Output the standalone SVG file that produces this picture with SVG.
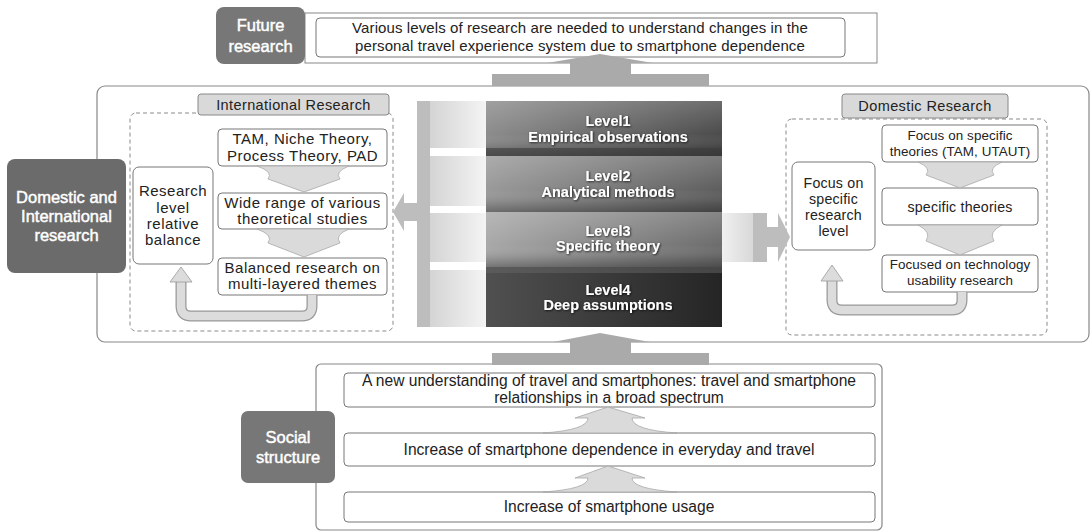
<svg xmlns="http://www.w3.org/2000/svg" width="1092" height="532" viewBox="0 0 1092 532">
<defs>
<style>
text{font-family:"Liberation Sans",Arial,sans-serif;fill:#222;text-anchor:middle}
.t{font-size:15px;letter-spacing:0.5px}
.td{font-size:13.4px;letter-spacing:0.1px}
.td2{font-size:14.2px;letter-spacing:0.2px}
.tl{font-size:14.5px;letter-spacing:0.4px}
.tf{font-size:15px;letter-spacing:0.1px}
.tb{font-size:15.6px}
.dark{fill:#777}
.dk text{fill:#fff;stroke:#fff;stroke-width:0.45;font-size:16.5px}
.box{fill:#fff;stroke:#777;stroke-width:1}
.frame{fill:#fff;stroke:#888;stroke-width:1.2}
.dash{fill:none;stroke:#8a8a8a;stroke-width:1;stroke-dasharray:4 3}
.lbl{fill:#d9d9d9;stroke:#888;stroke-width:1}
.ga{fill:#aaaaaa}
.la{fill:#dadada;stroke:#a8a8a8;stroke-width:0.8}
.lv{fill:#fff;font-size:14.5px;font-weight:bold;filter:url(#sh)}
.band1{fill:none;stroke:#999;stroke-width:11}
.band2{fill:none;stroke:#dcdcdc;stroke-width:8.5}
</style>
<filter id="sh" x="-10%" y="-30%" width="120%" height="160%">
<feDropShadow dx="0.8" dy="0.8" stdDeviation="0.8" flood-color="#000" flood-opacity="0.8"/>
</filter>
<linearGradient id="strip" x1="0" y1="0" x2="1" y2="0"><stop offset="0" stop-color="#d4d4d4"/><stop offset="1" stop-color="#f4f4f4"/></linearGradient>
<linearGradient id="strip2" x1="0" y1="0" x2="1" y2="0"><stop offset="0" stop-color="#f0f0f0"/><stop offset="1" stop-color="#d8d8d8"/></linearGradient>
<linearGradient id="l1" x1="0" y1="0" x2="1" y2="0"><stop offset="0" stop-color="#8c8c8c"/><stop offset="1" stop-color="#4c4c4c"/></linearGradient>
<linearGradient id="l2" x1="0" y1="0" x2="1" y2="0"><stop offset="0" stop-color="#9a9a9a"/><stop offset="1" stop-color="#5e5e5e"/></linearGradient>
<linearGradient id="l3" x1="0" y1="0" x2="1" y2="0"><stop offset="0" stop-color="#a8a8a8"/><stop offset="1" stop-color="#6c6c6c"/></linearGradient>
<linearGradient id="l4" x1="0" y1="0" x2="1" y2="0"><stop offset="0" stop-color="#505050"/><stop offset="1" stop-color="#252525"/></linearGradient>
<linearGradient id="gloss" x1="0" y1="0" x2="0" y2="1"><stop offset="0" stop-color="#fff" stop-opacity="0.18"/><stop offset="0.6" stop-color="#fff" stop-opacity="0"/><stop offset="0.85" stop-color="#000" stop-opacity="0.12"/><stop offset="1" stop-color="#000" stop-opacity="0.3"/></linearGradient>
</defs>

<!-- frames -->
<g id="future-frame"><rect x="305" y="13" width="572" height="50" fill="#fff" stroke="#888" stroke-width="1"/></g>
<g id="main-frame"><rect class="frame" x="97" y="86" width="992" height="256" rx="8"/></g>
<g id="social-frame"><rect class="frame" x="316" y="364" width="566" height="166" rx="5"/></g>

<!-- Future research -->
<g id="future-label" class="dk">
<rect class="dark" x="216" y="7" width="89" height="57" rx="8" fill="#777"/>
<text x="260.5" y="31">Future</text>
<text x="260.5" y="52">research</text>
</g>
<g id="future-box">
<rect class="box" x="316" y="18" width="529" height="39" rx="4"/>
<text class="tf" x="580" y="33">Various levels of research are needed to understand changes in the</text>
<text class="tf" x="580" y="51">personal travel experience system due to smartphone dependence</text>
</g>

<!-- Domestic and International -->
<g id="dni-label" class="dk">
<rect x="7" y="159" width="119" height="114" rx="8" fill="#6b6b6b"/>
<text x="66.5" y="203">Domestic and</text>
<text x="66.5" y="222">International</text>
<text x="66.5" y="241">research</text>
</g>

<!-- International research -->
<g id="intl-dashed"><rect class="dash" x="130" y="113" width="263" height="218" rx="6"/></g>
<g id="intl-label">
<rect class="lbl" x="198" y="94" width="191" height="21" rx="3"/>
<text class="tl" x="293.5" y="110">International Research</text>
</g>
<g id="intl-tam">
<rect class="box" x="218" y="129" width="169" height="37" rx="4"/>
<text class="t" x="302.5" y="144">TAM, Niche Theory,</text>
<text class="t" x="302.5" y="161">Process Theory, PAD</text>
</g>
<g id="intl-balance">
<rect class="box" x="133" y="167" width="80" height="97" rx="6"/>
<text class="t" x="173" y="196">Research</text>
<text class="t" x="173" y="213">level</text>
<text class="t" x="173" y="229">relative</text>
<text class="t" x="173" y="245">balance</text>
</g>
<g id="intl-wide">
<rect class="box" x="218" y="193" width="169" height="36" rx="4"/>
<text class="t" x="302.5" y="208">Wide range of various</text>
<text class="t" x="302.5" y="224">theoretical studies</text>
</g>
<g id="intl-balanced">
<rect class="box" x="218" y="258" width="169" height="37" rx="4"/>
<text class="t" x="302.5" y="273">Balanced research on</text>
<text class="t" x="302.5" y="289">multi-layered themes</text>
</g>

<!-- Domestic research -->
<g id="dom-dashed"><rect class="dash" x="786" y="119" width="261" height="216" rx="6"/></g>
<g id="dom-label">
<rect class="lbl" x="842" y="94" width="166" height="24" rx="3"/>
<text class="tl" x="925" y="111">Domestic Research</text>
</g>
<g id="dom-focus-theories">
<rect class="box" x="882" y="125" width="156" height="37" rx="4"/>
<text class="td" x="960" y="140">Focus on specific</text>
<text class="td" x="960" y="156">theories (TAM, UTAUT)</text>
</g>
<g id="dom-focus-level">
<rect class="box" x="792" y="162" width="83" height="88" rx="6"/>
<text class="td2" x="833.5" y="188">Focus on</text>
<text class="td2" x="833.5" y="204">specific</text>
<text class="td2" x="833.5" y="220">research</text>
<text class="td2" x="833.5" y="236">level</text>
</g>
<g id="dom-specific">
<rect class="box" x="882" y="188" width="156" height="37" rx="4"/>
<text class="td2" x="960" y="212">specific theories</text>
</g>
<g id="dom-tech">
<rect class="box" x="882" y="255" width="156" height="37" rx="4"/>
<text class="td" x="960" y="269">Focused on technology</text>
<text class="td" x="960" y="285">usability research</text>
</g>

<!-- Levels stack -->
<g id="levels">
<rect x="417" y="101" width="13" height="226" fill="#bdbdbd"/>
<rect x="430" y="101" width="56" height="47" fill="url(#strip)"/>
<rect x="430" y="156" width="56" height="50" fill="url(#strip)"/>
<rect x="430" y="213" width="56" height="49" fill="url(#strip)"/>
<rect x="430" y="270" width="56" height="57" fill="url(#strip)"/>
<rect x="722" y="213" width="31" height="49" fill="url(#strip2)"/>
<g id="level1">
<rect x="486" y="101" width="236" height="55" fill="url(#l1)"/>
<rect x="486" y="101" width="236" height="55" fill="url(#gloss)"/>
<rect x="486" y="148" width="236" height="8" fill="#3c3c3c" opacity="0.6"/>
<text class="lv" x="608" y="126">Level1</text>
<text class="lv" x="608" y="142">Empirical observations</text>
</g>
<g id="level2">
<rect x="486" y="156" width="236" height="56" fill="url(#l2)"/>
<rect x="486" y="156" width="236" height="56" fill="url(#gloss)"/>
<text class="lv" x="608" y="181">Level2</text>
<text class="lv" x="608" y="197">Analytical methods</text>
</g>
<g id="level3">
<rect x="486" y="212" width="236" height="55" fill="url(#l3)"/>
<rect x="486" y="212" width="236" height="55" fill="url(#gloss)"/>
<text class="lv" x="608" y="236">Level3</text>
<text class="lv" x="608" y="251">Specific theory</text>
</g>
<g id="level4">
<rect x="486" y="267" width="236" height="60" fill="url(#l4)"/>
<rect x="486" y="267" width="236" height="6" fill="#666" opacity="0.5"/>
<text class="lv" x="608" y="295">Level4</text>
<text class="lv" x="608" y="310">Deep assumptions</text>
</g>
</g>

<!-- Social structure -->
<g id="social-label" class="dk">
<rect x="241" y="411" width="94" height="72" rx="7" fill="#777"/>
<text x="288" y="443">Social</text>
<text x="288" y="463">structure</text>
</g>
<g id="social-new">
<rect class="box" x="344" y="373" width="531" height="34" rx="4"/>
<text class="tb" x="609" y="386">A new understanding of travel and smartphones: travel and smartphone</text>
<text class="tb" x="609" y="403">relationships in a broad spectrum</text>
</g>
<g id="social-dependence">
<rect class="box" x="344" y="433" width="531" height="33" rx="4"/>
<text class="tb" x="609" y="455">Increase of smartphone dependence in everyday and travel</text>
</g>
<g id="social-usage">
<rect class="box" x="344" y="492" width="531" height="30" rx="4"/>
<text class="tb" x="609" y="512">Increase of smartphone usage</text>
</g>

<!-- connectors -->
<g id="connectors">
<polygon class="ga" points="492,86 492,74 570,74 570,63 547,63 600,54 653,63 631,63 631,74 709,74 709,86"/>
<polygon class="ga" points="492,365 492,353 570,353 570,342 553,342 600,333 650,342 631,342 631,353 709,353 709,365"/>
<polygon fill="#bdbdbd" points="393,212 404,193 404,203 417,203 417,221 404,221 404,231"/>
<polygon fill="#bdbdbd" points="753,213 767,213 767,227 778,227 778,213 790,237 778,262 778,247 767,247 767,262 753,262"/>
<path class="la" d="M257,166 L349,166 Q334,172 340,179 L304,192 L268,179 Q274,172 257,166 Z"/>
<path class="la" d="M257,229 L349,229 Q334,235 340,243 L304,257 L268,243 Q274,235 257,229 Z"/>
<path class="la" d="M918,162 L1002,162 Q988,168 994,175 L960,188 L926,175 Q932,168 918,162 Z"/>
<path class="la" d="M918,225 L1002,225 Q988,232 994,241 L960,255 L926,241 Q932,232 918,225 Z"/>
<path class="la" d="M543,433 Q588,430 588,418 L575,418 L608,407 L645,418 L632,418 Q632,430 677,433 Z"/>
<path class="la" d="M543,492 Q588,489 588,478 L575,478 L608,466 L645,478 L632,478 Q632,489 677,492 Z"/>
<path class="band1" d="M312,295 V306 Q312,316 302,316 H191 Q181,316 181,306 V281"/>
<path class="band2" d="M312,295 V306 Q312,316 302,316 H191 Q181,316 181,306 V280"/>
<polygon class="la" points="170,282 192,282 181,267" style="stroke:#999;fill:#dcdcdc"/>
<path class="band1" d="M962,292 V300 Q962,310 952,310 H842 Q832,310 832,300 V280"/>
<path class="band2" d="M962,292 V300 Q962,310 952,310 H842 Q832,310 832,300 V279"/>
<polygon class="la" points="821,281 843,281 832,265" style="stroke:#999;fill:#dcdcdc"/>
</g>
</svg>
